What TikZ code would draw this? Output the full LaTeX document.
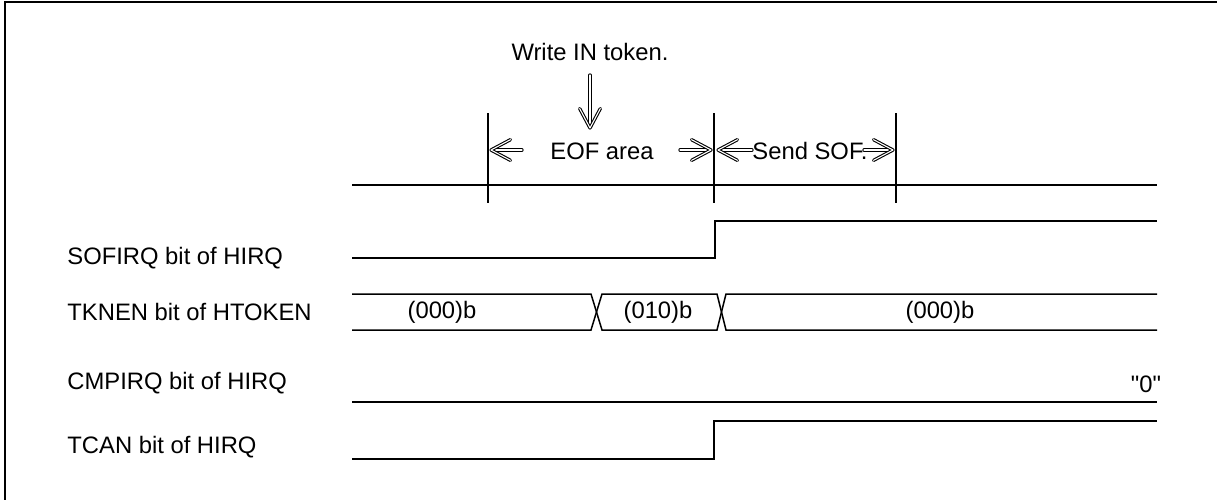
\documentclass[tikz,border=0pt]{standalone}
\usepackage{fontspec}
\setmainfont{Liberation Sans}[Ligatures=TeXOff]
\usetikzlibrary{calc}
\begin{document}
\begin{tikzpicture}[x=0.5pt,y=-0.5pt,
  sig/.style={line width=0.75pt},
  lbl/.style={anchor=west,inner sep=0pt,font=\fontsize{11.9}{14}\selectfont},
  txt/.style={inner sep=0pt,font=\fontsize{11.9}{14}\selectfont},
  dbl/.style={double,double distance=0.55pt,line width=0.55pt,line join=round,line cap=round}]
\newcommand{\dblarrow}[2]{%
  \draw[dbl] (#1) -- ($(#2)!2pt!(#1)$);
  \draw[dbl] ($(#2)!11pt!28:(#1)$) -- (#2) -- ($(#2)!11pt!-28:(#1)$);}
\useasboundingbox (0,0) rectangle (1217,499);
% frame
\draw[line width=1pt] (5,510) -- (5,2) -- (1230,2);
% time axis and ticks
\draw[sig] (352,185) -- (1157,185);
\draw[sig] (488,113) -- (488,203);
\draw[sig] (714,113) -- (714,203);
\draw[sig] (896,113) -- (896,203);
% top texts and arrows
\node[txt] (wr) at (590,52) {Write IN token.};
\coordinate (wa) at (590,75);
\coordinate (wb) at (590,128);
\dblarrow{wa}{wb}
\node[txt] (eof) at (602,151) {EOF area};
\coordinate (e1) at (522,150); \coordinate (e1t) at (491,150);
\coordinate (e2) at (680,150); \coordinate (e2t) at (711,150);
\dblarrow{e1}{e1t}
\dblarrow{e2}{e2t}
\node[txt] (sof) at (810,151) {Send SOF.};
\coordinate (s1) at (752,150); \coordinate (s1t) at (718,150);
\coordinate (s2) at (864,150); \coordinate (s2t) at (893,150);
\dblarrow{s1}{s1t}
\dblarrow{s2}{s2t}
% labels
\node[lbl] (l1) at (67,258) {SOFIRQ bit of HIRQ};
\node[lbl] (l2) at (67,312) {TKNEN bit of HTOKEN};
\node[lbl] (l3) at (67,383) {CMPIRQ bit of HIRQ};
\node[lbl] (l4) at (67,447) {TCAN bit of HIRQ};
% SOFIRQ
\draw[sig] (352,258) -- (715,258) -- (715,221) -- (1157,221);
% TKNEN bus
\draw[sig] (352,294) -- (591,294) -- (602,330) -- (717,330) -- (726,294) -- (1157,294);
\draw[sig] (352,330) -- (591,330) -- (602,294) -- (717,294) -- (726,330) -- (1157,330);
\node[txt] (b1) at (442,312) {(000)b};
\node[txt] (b2) at (658,312) {(010)b};
\node[txt] (b3) at (940,312) {(000)b};
% CMPIRQ
\draw[sig] (352,402) -- (1157,402);
\node[txt] (z) at (1146,384) {"0"};
% TCAN
\draw[sig] (352,459) -- (714,459) -- (714,421) -- (1157,421);
\end{tikzpicture}
\end{document}
